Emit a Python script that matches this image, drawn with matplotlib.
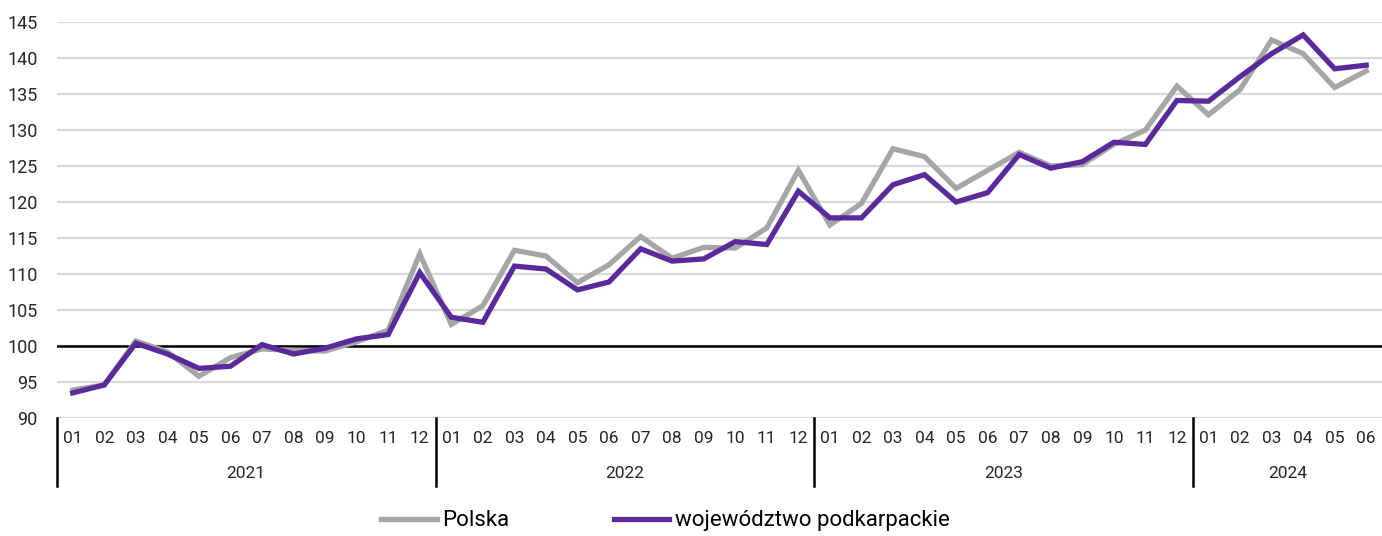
import matplotlib
matplotlib.use("Agg")
import matplotlib.pyplot as plt
import matplotlib.transforms as mtransforms

plt.rcParams['font.family'] = ['Roboto', 'DejaVu Sans']

# Data: months 2021-01 .. 2024-06
years = ['2021', '2022', '2023', '2024']
months_per_year = [12, 12, 12, 6]
month_labels = ['%02d' % m for n in months_per_year for m in range(1, n + 1)]

polska = [
    93.9, 94.6, 100.7, 99.2, 95.8, 98.4, 99.6, 99.4, 99.3, 100.6, 102.2, 112.8,
    103.0, 105.6, 113.3, 112.5, 108.8, 111.3, 115.2, 112.2, 113.7, 113.6, 116.4, 124.4,
    116.8, 119.8, 127.4, 126.3, 121.9, 124.4, 126.9, 125.0, 125.2, 128.0, 130.0, 136.1,
    132.1, 135.6, 142.5, 140.6, 135.9, 138.2,
]
podkarpackie = [
    93.5, 94.6, 100.4, 98.9, 96.9, 97.2, 100.2, 98.9, 99.7, 101.0, 101.6, 110.2,
    104.0, 103.3, 111.1, 110.7, 107.8, 108.9, 113.5, 111.8, 112.1, 114.5, 114.1, 121.5,
    117.8, 117.8, 122.4, 123.8, 120.0, 121.3, 126.6, 124.7, 125.6, 128.3, 128.0, 134.1,
    134.0, 137.4, 140.6, 143.2, 138.5, 139.0,
]

x = list(range(len(month_labels)))

fig = plt.figure(figsize=(13.82, 5.36), dpi=100)
ax = fig.add_axes([0.0412, 0.22, 0.9588, 0.739])

ax.set_ylim(90, 145)
ax.set_xlim(-0.5, len(x) - 0.5)
ax.set_yticks(range(90, 146, 5))
ax.yaxis.grid(True, color='#d9d9d9', linewidth=1.6)
ax.set_axisbelow(True)
ax.axhline(100, color='black', linewidth=1.8, zorder=1.5)

ax.plot(x, polska, color='#a6a6a6', linewidth=3.8, label='Polska',
        solid_joinstyle='miter', zorder=3)
ax.plot(x, podkarpackie, color='#5a2a9c', linewidth=3.8,
        label='województwo podkarpackie', solid_joinstyle='miter', zorder=4)

ax.set_xticks(x)
ax.set_xticklabels(month_labels)
ax.tick_params(axis='both', length=0, labelsize=12.5, colors='#262626')
ax.tick_params(axis='x', pad=9)
ax.tick_params(axis='y', pad=14, labelsize=13)
for s in ax.spines.values():
    s.set_visible(False)

trans = mtransforms.blended_transform_factory(ax.transData, ax.transAxes)
start = -0.5
for year, n in zip(years, months_per_year):
    ax.plot([start, start], [0, -0.172], color='black', linewidth=1.8,
            transform=trans, clip_on=False)
    ax.text(start + n / 2, -0.139, year, transform=trans, ha='center',
            va='center', fontsize=12.5, color='#262626')
    start += n

fig.legend(loc='center', ncol=2, bbox_to_anchor=(0.4816, 0.028),
           frameon=False, fontsize=16, handlelength=2.5, handletextpad=0.25,
           columnspacing=4.7)

fig.savefig('out.png', dpi=100)
